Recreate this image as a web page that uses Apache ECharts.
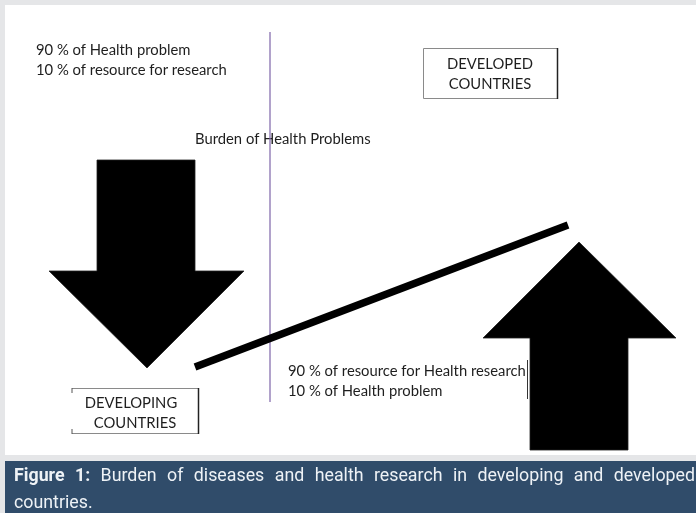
<!DOCTYPE html>
<html><head><meta charset="utf-8">
<script src="https://cdn.jsdelivr.net/npm/echarts@6/dist/echarts.min.js"></script>
<style>html,body{margin:0;padding:0;background:#e5e6e8;}#c{width:696px;height:513px;}</style>
</head><body><div id="c"></div>
<script>
// Diagram shapes (in picture coordinates, drawn via hidden value axes)
const downArrow = [[97,160],[195,160],[195,271],[244,271],[147,368],[49,271],[97,271]];
const upArrow = [[579,242],[676,338],[628,338],[628,450],[530,450],[530,338],[483,338]];
const balanceBeam = [[195,367],[568,225]];
const divider = [[270,32],[270,402]];

const F = 'Lato, "Open Sans", sans-serif';
const chart = echarts.init(document.getElementById('c'), null, {renderer:'canvas'});

function polySeries(name, pts) {
  return {
    type:'custom', name, silent:true, coordinateSystem:'cartesian2d',
    data:[0],
    renderItem:(params, api) => ({
      type:'polygon',
      shape:{points: pts.map(p => api.coord(p))},
      style:{fill:'#000', stroke:'#222', lineWidth:0.8}
    })
  };
}

function txt(x, y, text, opt) {
  return {type:'text', x, y, style:Object.assign({text, fill:'#1e1e1e', font:'14.8px ' + F, textVerticalAlign:'middle'}, opt||{})};
}

// Caption: justified line, font sized so "developing" matches the reference width
const capBold = ['Figure', '1:'];
const capWords = ['Burden','of','diseases','and','health','research','in','developing','and','developed'];
const mctx = document.createElement('canvas').getContext('2d');
function w(text, size, bold) { mctx.font = (bold ? 'bold ' : '') + size + 'px Roboto'; return mctx.measureText(text).width; }
// target width of the regular words (sum of widths measured in reference)
const targetSum = 501;
let sum100 = 0; capWords.forEach(t => sum100 += w(t, 100, false));
const capSize = Math.max(14, Math.min(20, 100 * targetSum / sum100));
const capFont = capSize + 'px Roboto, sans-serif';
const all = capBold.map(t => [t, true]).concat(capWords.map(t => [t, false]));
let totalW = 0; all.forEach(a => totalW += w(a[0], capSize, a[1]));
const left = 14, right = 695;
const gap = (right - left - totalW) / (all.length - 1);

const graphics = [
  {type:'rect', shape:{x:5,y:5,width:691,height:450}, style:{fill:'#ffffff'}, z:-10},
  {type:'rect', shape:{x:5,y:461,width:691,height:52}, style:{fill:'#304c6a'}, z:-10},
  // DEVELOPED box
  {type:'rect', shape:{x:423.5,y:48.5,width:134,height:50}, style:{fill:'none', stroke:'#8a8a8a', lineWidth:1}},
  {type:'line', shape:{x1:557.5,y1:48,x2:557.5,y2:99}, style:{stroke:'#222', lineWidth:1.5}},
  // DEVELOPING box
  {type:'line', shape:{x1:72,y1:388.5,x2:199,y2:388.5}, style:{stroke:'#8a8a8a', lineWidth:1}},
  {type:'line', shape:{x1:72,y1:433.5,x2:199,y2:433.5}, style:{stroke:'#8a8a8a', lineWidth:1}},
  {type:'line', shape:{x1:198.5,y1:388,x2:198.5,y2:434}, style:{stroke:'#222', lineWidth:1.5}},
  {type:'line', shape:{x1:72,y1:388,x2:72,y2:393}, style:{stroke:'#555', lineWidth:1}},
  {type:'line', shape:{x1:72,y1:429,x2:72,y2:434}, style:{stroke:'#555', lineWidth:1}},
  {type:'line', shape:{x1:527.5,y1:360,x2:527.5,y2:399}, style:{stroke:'#333', lineWidth:1}},
  txt(36, 50, '90 % of Health problem'),
  txt(36, 70, '10 % of resource for research'),
  txt(195, 139, 'Burden of Health Problems'),
  txt(490, 64, 'DEVELOPED', {textAlign:'center'}),
  txt(490, 84, 'COUNTRIES', {textAlign:'center'}),
  txt(131, 403, 'DEVELOPING', {textAlign:'center'}),
  txt(135, 423, 'COUNTRIES', {textAlign:'center'}),
  txt(288, 371, '90 % of resource for Health research'),
  txt(288, 391, '10 % of Health problem'),
];
let cx = left;
all.forEach(a => {
  graphics.push({type:'text', x:cx, y:477, style:{text:a[0], fill:'#eef2f6', font:(a[1]?'bold ':'') + capFont, textVerticalAlign:'middle'}});
  cx += w(a[0], capSize, a[1]) + gap;
});
graphics.push({type:'text', x:left, y:504, style:{text:'countries.', fill:'#eef2f6', font:capFont, textVerticalAlign:'middle'}});

chart.setOption({
  animation:false,
  backgroundColor:'#e5e6e8',
  grid:{left:0,right:0,top:0,bottom:0},
  xAxis:{type:'value', min:0, max:696, show:false},
  yAxis:{type:'value', min:0, max:513, inverse:true, show:false},
  graphic:{elements:graphics},
  series:[
    {type:'line', name:'divider', data:divider, symbol:'none', silent:true, z:1,
     lineStyle:{color:'#7d64a8', width:1.2}},
    polySeries('down', downArrow),
    polySeries('up', upArrow),
    {type:'line', name:'beam', data:balanceBeam, symbol:'none', silent:true, z:3,
     lineStyle:{color:'#000', width:7.5, cap:'butt'}}
  ]
});
</script></body></html>
